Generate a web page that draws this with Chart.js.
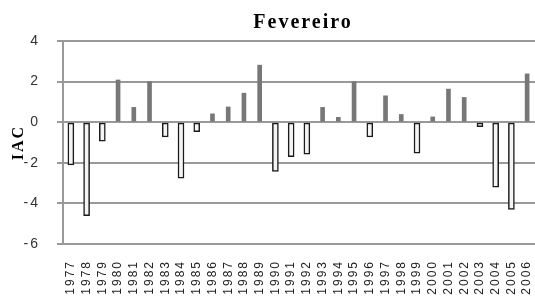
<!DOCTYPE html>
<html>
<head>
<meta charset="utf-8">
<script src="https://cdn.jsdelivr.net/npm/chart.js@4"></script>
<style>
  html, body { margin: 0; padding: 0; background: #fff; }
  #wrap { width: 535px; height: 298px; }
</style>
</head>
<body>
<div id="wrap"><canvas id="chart" width="535" height="298"></canvas></div>
<script>
// data
var years = ["1977", "1978", "1979", "1980", "1981", "1982", "1983", "1984", "1985", "1986",
  "1987", "1988", "1989", "1990", "1991", "1992", "1993", "1994", "1995", "1996",
  "1997", "1998", "1999", "2000", "2001", "2002", "2003", "2004", "2005", "2006"];
var iac = [-2.1, -4.6, -0.93, 2.08, 0.73, 2.0, -0.73, -2.76, -0.47, 0.41,
  0.75, 1.43, 2.81, -2.42, -1.7, -1.58, 0.73, 0.24, 2.0, -0.73,
  1.3, 0.38, -1.53, 0.26, 1.63, 1.22, -0.22, -3.2, -4.3, 2.38];
var yTicks = [-6, -4, -2, 0, 2, 4];

// split into positive (grey) and negative (outlined) bars
var positive = iac.map(function (v) { return v > 0 ? v : null; });
var negative = iac.map(function (v) { return v < 0 ? v : null; });

// wider text like the original picture, and title a bit to the right
var textLook = {
  id: "textLook",
  afterLayout: function (chart) {
    var t = chart.titleBlock;
    if (t) {
      var w = t.right - t.left;
      t.left = 303 - w / 2;
      t.right = 303 + w / 2;
    }
  },
  beforeDraw: function (chart) {
    chart.ctx.letterSpacing = "2px";
  },
  afterDraw: function (chart) {
    chart.ctx.letterSpacing = "0px";
  },
};

var ctx = document.getElementById("chart").getContext("2d");

var chart = new Chart(ctx, {
  type: "bar",
  data: {
    labels: years,
    datasets: [
      {
        label: "positivo",
        data: positive,
        backgroundColor: "#777777",
        borderWidth: 0,
        barThickness: 4,
        grouped: false,
      },
      {
        label: "negativo",
        data: negative,
        backgroundColor: "#f4f4f4",
        borderColor: "#1a1a1a",
        borderWidth: 1.5,
        borderSkipped: false,
        barThickness: 6,
        grouped: false,
      },
    ],
  },
  plugins: [textLook],
  options: {
    responsive: false,
    animation: false,
    layout: { padding: { left: 0, right: 0, top: 0, bottom: 0 } },
    plugins: {
      legend: { display: false },
      tooltip: { enabled: false },
      title: {
        display: true,
        text: "Fevereiro",
        fullSize: false,
        color: "#000",
        font: { family: "Liberation Serif", size: 20, weight: "bold" },
        padding: { top: 11, bottom: 6 },
      },
    },
    scales: {
      x: {
        grid: { display: false },
        border: { display: false },
        ticks: {
          autoSkip: false,
          minRotation: 90,
          maxRotation: 90,
          padding: 8,
          color: "#222",
          font: { family: "Liberation Sans", size: 12 },
        },
        afterFit: function (scale) {
          scale.height = 54;
          scale.paddingLeft = 0;
          scale.paddingRight = 0;
        },
      },
      y: {
        min: yTicks[0],
        max: yTicks[yTicks.length - 1],
        grid: { color: "#999999", lineWidth: 2, tickLength: 6 },
        border: { color: "#999999", width: 2 },
        ticks: {
          stepSize: yTicks[1] - yTicks[0],
          padding: 17,
          color: "#333",
          font: { family: "Liberation Sans", size: 14 },
        },
        title: {
          display: true,
          text: "IAC",
          color: "#000",
          font: { family: "Liberation Serif", size: 16, weight: "bold" },
          padding: { top: 9, bottom: 0 },
        },
        afterFit: function (scale) {
          scale.width = 63;
        },
      },
    },
  },
});
</script>
</body>
</html>
